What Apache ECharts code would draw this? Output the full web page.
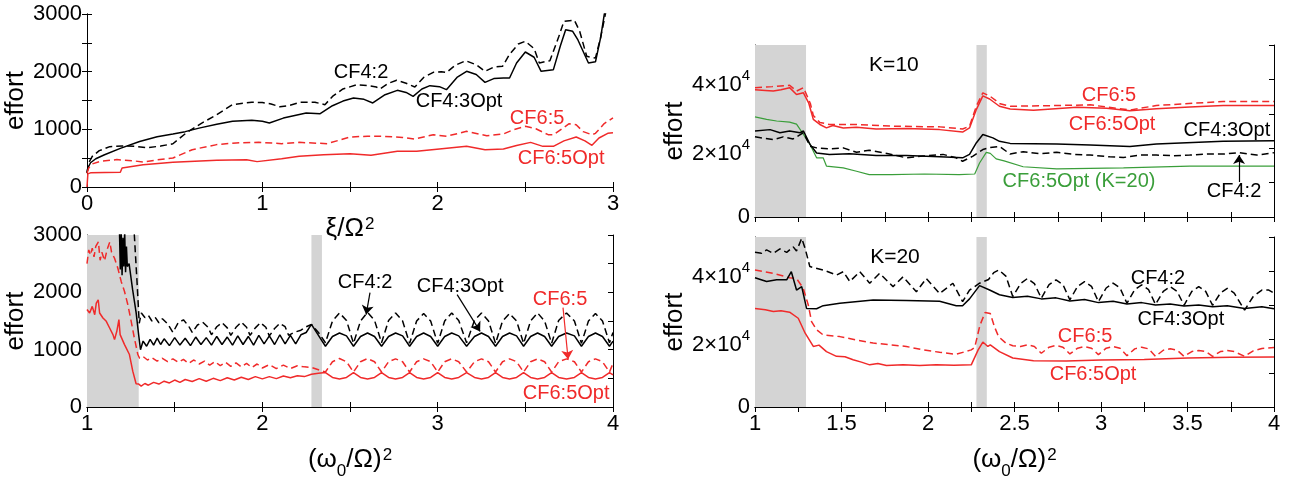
<!DOCTYPE html>
<html>
<head>
<meta charset="utf-8">
<title>effort</title>
<script src="https://cdn.jsdelivr.net/npm/echarts@6/dist/echarts.min.js"></script>
<style>
html, body { margin: 0; padding: 0; background: #fff; }
#chart { width: 1293px; height: 481px; }
</style>
</head>
<body>
<div id="chart"></div>
<script>
// ---- data ----
// top left: effort vs xi/Omega^2
var ltCF42 = [[0,250],[0.01,420],[0.03,530],[0.07,630],[0.13,700],[0.2,712],[0.27,705],[0.34,680],[0.42,710],[0.49,750],[0.565,935],[0.65,1100],[0.74,1255],[0.83,1430],[0.94,1470],[1.0,1465],[1.05,1440],[1.1,1390],[1.15,1410],[1.215,1468],[1.3,1470],[1.357,1428],[1.4,1570],[1.46,1700],[1.54,1774],[1.6,1760],[1.65,1734],[1.67,1700],[1.72,1800],[1.766,1850],[1.82,1800],[1.87,1734],[1.92,1900],[1.975,1988],[2.02,2000],[2.05,1985],[2.1,2110],[2.16,2190],[2.22,2120],[2.27,2006],[2.32,2080],[2.37,2092],[2.41,2300],[2.46,2480],[2.5,2526],[2.55,2400],[2.58,2150],[2.62,2180],[2.64,2190],[2.69,2600],[2.72,2873],[2.78,2890],[2.81,2700],[2.85,2266],[2.9,2237],[2.93,2600],[2.96,3050],[2.98,3300]];
var ltCF43Opt = [[0,240],[0.005,330],[0.02,420],[0.05,490],[0.1,560],[0.19,670],[0.3,790],[0.4,870],[0.49,920],[0.56,960],[0.645,1025],[0.74,1090],[0.83,1140],[0.94,1158],[1.0,1140],[1.04,1110],[1.12,1195],[1.25,1283],[1.33,1272],[1.4,1410],[1.46,1490],[1.52,1543],[1.58,1520],[1.63,1457],[1.7,1600],[1.77,1676],[1.82,1640],[1.86,1572],[1.91,1700],[1.956,1757],[2.01,1740],[2.05,1688],[2.11,1900],[2.165,2006],[2.22,1950],[2.27,1815],[2.32,1880],[2.375,1890],[2.41,1890],[2.45,2150],[2.5,2341],[2.55,2250],[2.59,2006],[2.66,2035],[2.7,2450],[2.73,2728],[2.77,2700],[2.8,2550],[2.86,2150],[2.9,2170],[2.93,2600],[2.95,2988],[2.97,3300]];
var ltCF65 = [[0,240],[0.01,330],[0.03,400],[0.075,445],[0.17,475],[0.26,455],[0.32,435],[0.4,470],[0.49,503],[0.6,647],[0.74,735],[0.85,765],[0.98,775],[1.11,751],[1.21,774],[1.37,751],[1.5,867],[1.6,880],[1.69,878],[1.8,860],[1.87,832],[1.975,907],[2.05,880],[2.165,965],[2.28,890],[2.375,919],[2.43,990],[2.5,1052],[2.56,1010],[2.63,907],[2.66,905],[2.75,1098],[2.79,1080],[2.83,960],[2.88,907],[2.9,930],[2.95,1100],[3,1200]];
var ltCF65Opt = [[0,0],[0.005,230],[0.02,245],[0.1,250],[0.19,255],[0.2,330],[0.32,387],[0.49,428],[0.74,462],[0.91,474],[0.97,440],[1.11,490],[1.21,532],[1.35,560],[1.5,578],[1.62,549],[1.77,618],[1.88,620],[2.01,659],[2.165,705],[2.27,647],[2.375,659],[2.45,720],[2.53,774],[2.6,705],[2.66,705],[2.72,800],[2.79,867],[2.84,800],[2.88,723],[2.92,850],[2.97,930],[3,940]];

// bottom left: effort vs (w0/Omega)^2
var lbCF42 = [[1.255,3200],[1.27,3000],[1.285,2200],[1.298,1460],[1.31,1640],[1.33,1560],[1.35,1600],[1.37,1500],[1.39,1560],[1.41,1470],[1.43,1540],[1.46,1450],[1.49,1300],[1.52,1470],[1.55,1520],[1.58,1410],[1.6,1300],[1.63,1430],[1.66,1480],[1.69,1390],[1.71,1260],[1.74,1400],[1.77,1470],[1.8,1380],[1.82,1250],[1.85,1390],[1.88,1480],[1.91,1390],[1.93,1250],[1.96,1380],[1.99,1470],[2.02,1390],[2.04,1240],[2.07,1370],[2.1,1460],[2.13,1400],[2.15,1250],[2.18,1300],[2.22,1340],[2.25,1400],[2.28,1440],[2.32,1300],[2.36,1120],[2.40,1500],[2.44,1640],[2.48,1510],[2.52,1110],[2.56,1500],[2.60,1650],[2.64,1510],[2.68,1120],[2.72,1510],[2.76,1640],[2.80,1500],[2.84,1110],[2.88,1500],[2.92,1630],[2.96,1500],[3.00,1110],[3.04,1500],[3.08,1640],[3.12,1510],[3.165,1120],[3.21,1510],[3.25,1640],[3.29,1500],[3.33,1110],[3.37,1500],[3.41,1630],[3.45,1500],[3.49,1110],[3.53,1500],[3.57,1640],[3.61,1500],[3.65,1110],[3.69,1510],[3.735,1640],[3.78,1500],[3.82,1110],[3.86,1500],[3.90,1630],[3.94,1500],[3.98,1120],[4.0,1300]];
var lbCF43Opt = [[1.185,3100],[1.19,2400],[1.195,3050],[1.2,2300],[1.205,2950],[1.21,2450],[1.215,3050],[1.22,2350],[1.225,2800],[1.23,2450],[1.24,2500],[1.26,2050],[1.28,1650],[1.295,1250],[1.305,1000],[1.32,1150],[1.34,1060],[1.36,1180],[1.38,1080],[1.40,1200],[1.42,1090],[1.44,1190],[1.47,1070],[1.50,1210],[1.53,1080],[1.56,1200],[1.59,1070],[1.62,1220],[1.65,1090],[1.68,1210],[1.71,1080],[1.74,1230],[1.77,1090],[1.80,1220],[1.83,1080],[1.86,1240],[1.89,1090],[1.92,1230],[1.95,1080],[1.98,1250],[2.01,1100],[2.04,1240],[2.07,1090],[2.10,1260],[2.13,1100],[2.16,1250],[2.19,1100],[2.22,1260],[2.25,1300],[2.28,1440],[2.32,1250],[2.36,1060],[2.40,1230],[2.44,1290],[2.48,1240],[2.52,1060],[2.56,1230],[2.60,1290],[2.64,1230],[2.68,1060],[2.72,1230],[2.76,1290],[2.80,1240],[2.84,1060],[2.88,1230],[2.92,1290],[2.96,1230],[3.00,1060],[3.04,1230],[3.08,1290],[3.12,1240],[3.165,1060],[3.21,1230],[3.25,1290],[3.29,1230],[3.33,1060],[3.37,1230],[3.41,1290],[3.45,1240],[3.49,1060],[3.53,1230],[3.57,1290],[3.61,1230],[3.65,1060],[3.69,1230],[3.735,1290],[3.78,1240],[3.82,1060],[3.86,1230],[3.90,1290],[3.94,1230],[3.98,1060],[4.0,1150]];
var lbCF65 = [[1.0,2500],[1.01,2740],[1.02,2650],[1.03,2770],[1.04,2620],[1.05,2800],[1.065,2880],[1.075,2560],[1.085,2700],[1.1,2550],[1.115,2750],[1.13,2880],[1.14,2700],[1.157,2594],[1.176,2420],[1.195,2190],[1.214,2015],[1.233,1783],[1.252,1494],[1.27,1204],[1.29,915],[1.3,850],[1.32,880],[1.345,820],[1.37,860],[1.4,800],[1.43,850],[1.46,790],[1.49,840],[1.52,780],[1.55,830],[1.58,760],[1.61,820],[1.64,750],[1.67,800],[1.7,730],[1.73,790],[1.76,720],[1.79,780],[1.82,710],[1.85,770],[1.88,700],[1.91,760],[1.94,690],[1.97,750],[2.0,680],[2.04,740],[2.08,670],[2.12,730],[2.16,670],[2.2,720],[2.24,700],[2.28,690],[2.32,650],[2.36,610],[2.40,790],[2.44,845],[2.48,790],[2.52,610],[2.56,790],[2.60,845],[2.64,790],[2.68,610],[2.72,790],[2.76,840],[2.80,790],[2.84,610],[2.88,790],[2.92,840],[2.96,790],[3.00,610],[3.04,790],[3.08,840],[3.12,790],[3.165,610],[3.21,790],[3.25,840],[3.29,790],[3.33,610],[3.37,790],[3.41,840],[3.45,790],[3.49,610],[3.53,790],[3.57,840],[3.61,790],[3.65,610],[3.69,790],[3.735,840],[3.78,790],[3.82,610],[3.86,790],[3.90,840],[3.94,790],[3.98,610],[4.0,760]];
var lbCF65Opt = [[1.0,1700],[1.006,1696],[1.015,1640],[1.03,1755],[1.044,1610],[1.053,1812],[1.064,1870],[1.072,1640],[1.091,1552],[1.11,1494],[1.129,1378],[1.148,1262],[1.157,1175],[1.17,1320],[1.182,1523],[1.189,1262],[1.214,1088],[1.242,915],[1.261,625],[1.28,405],[1.295,400],[1.309,365],[1.33,410],[1.35,380],[1.38,430],[1.41,400],[1.44,450],[1.47,420],[1.5,470],[1.53,430],[1.56,480],[1.6,445],[1.64,495],[1.68,450],[1.72,500],[1.76,460],[1.8,510],[1.84,470],[1.88,520],[1.92,480],[1.96,530],[2.0,490],[2.04,530],[2.08,495],[2.12,540],[2.16,510],[2.2,545],[2.24,530],[2.28,570],[2.32,590],[2.36,600],[2.40,515],[2.44,490],[2.48,515],[2.52,600],[2.56,515],[2.60,490],[2.64,515],[2.68,600],[2.72,515],[2.76,490],[2.80,515],[2.84,600],[2.88,515],[2.92,490],[2.96,515],[3.00,600],[3.04,515],[3.08,490],[3.12,515],[3.165,600],[3.21,515],[3.25,490],[3.29,515],[3.33,600],[3.37,515],[3.41,490],[3.45,515],[3.49,600],[3.53,515],[3.57,490],[3.61,515],[3.65,600],[3.69,515],[3.735,490],[3.78,515],[3.82,600],[3.86,515],[3.90,490],[3.94,515],[3.98,600],[4.0,560]];

// top right: K=10
var k10CF65 = [[1.0,37600],[1.01,37800],[1.1,37900],[1.2,38300],[1.24,36600],[1.28,37600],[1.32,33000],[1.337,29500],[1.375,27500],[1.43,26900],[1.587,26900],[1.79,26400],[2.067,26200],[2.2,25600],[2.24,26400],[2.28,32300],[2.317,36100],[2.356,35200],[2.417,32900],[2.475,32200],[2.744,32400],[2.937,32600],[3.167,31100],[3.32,32400],[3.706,33600],[4,33600]];
var k10CF65Opt = [[1.0,37000],[1.01,37100],[1.06,36800],[1.106,36600],[1.15,37000],[1.2,37600],[1.24,35600],[1.28,36100],[1.31,33200],[1.337,28400],[1.375,26900],[1.413,25900],[1.45,26600],[1.51,25900],[1.587,26100],[1.7,25600],[1.875,25700],[2.067,25400],[2.2,24700],[2.24,25900],[2.28,31300],[2.317,35200],[2.356,34300],[2.413,32200],[2.475,31400],[2.61,31000],[2.86,31900],[3.033,31600],[3.167,30900],[3.32,31500],[3.513,32000],[3.706,32400],[4,32400]];
var k10CF43Opt = [[1.0,25000],[1.01,25000],[1.087,25400],[1.144,24500],[1.2,25000],[1.26,24500],[1.28,25000],[1.318,21100],[1.356,18600],[1.43,18200],[1.546,18400],[1.7,17900],[1.875,17900],[2.067,17500],[2.2,17200],[2.24,18200],[2.28,21600],[2.317,24000],[2.375,23000],[2.413,22000],[2.475,21400],[2.744,21200],[2.937,20900],[3.167,20500],[3.32,21200],[3.706,22000],[4,22200]];
var k10CF42 = [[1.0,23300],[1.106,22500],[1.163,23300],[1.22,22700],[1.28,24500],[1.318,20600],[1.356,20100],[1.43,19800],[1.51,20100],[1.587,18800],[1.66,19400],[1.77,18400],[1.875,17200],[1.97,17700],[2.087,18200],[2.163,17200],[2.2,16200],[2.26,17700],[2.317,19600],[2.36,20200],[2.413,20500],[2.475,18300],[2.55,19000],[2.65,18400],[2.744,18800],[2.85,18200],[2.937,18000],[3.05,17500],[3.13,17300],[3.23,18000],[3.32,18000],[3.42,17800],[3.513,18000],[3.62,18300],[3.706,18300],[3.8,18700],[3.9,18000],[4,18700]];
var k10CF65OptK20 = [[1.0,29100],[1.01,29100],[1.067,28400],[1.125,27900],[1.2,27600],[1.24,27000],[1.28,24000],[1.318,21100],[1.356,17200],[1.394,17200],[1.413,14800],[1.51,14300],[1.587,13300],[1.66,12300],[1.79,12300],[1.98,12500],[2.18,12300],[2.27,12500],[2.298,15700],[2.337,18800],[2.36,18500],[2.394,16900],[2.44,16300],[2.55,14600],[2.744,14000],[3.13,14300],[3.513,14800],[4,14800]];

// bottom right: K=20
var k20CF42 = [[1.0,45500],[1.01,45900],[1.038,45200],[1.067,46200],[1.106,45200],[1.144,46500],[1.183,45500],[1.221,47100],[1.24,45900],[1.27,49600],[1.29,46600],[1.317,41300],[1.394,40300],[1.471,38800],[1.51,39800],[1.548,36900],[1.606,39800],[1.663,36400],[1.72,39300],[1.798,35400],[1.856,38300],[1.933,33900],[1.99,37800],[2.067,33400],[2.144,36400],[2.2,31000],[2.24,34400],[2.298,36400],[2.35,37500],[2.38,39500],[2.41,40300],[2.45,38500],[2.49,32500],[2.535,36300],[2.575,37800],[2.615,36300],[2.655,32000],[2.7,36000],[2.74,37400],[2.78,36000],[2.82,31500],[2.865,35500],[2.905,36900],[2.945,35500],[2.985,31000],[3.03,35000],[3.07,36400],[3.11,35000],[3.15,30500],[3.195,34500],[3.235,35900],[3.275,34500],[3.315,30200],[3.36,34000],[3.40,35400],[3.44,34000],[3.48,29900],[3.525,34000],[3.565,35400],[3.605,34000],[3.645,29900],[3.69,33500],[3.73,34900],[3.77,33500],[3.83,28500],[3.88,32500],[3.93,34400],[3.97,34400],[4.0,33500]];
var k20CF43Opt = [[1.0,38000],[1.01,38000],[1.067,36900],[1.125,37400],[1.183,37400],[1.21,39800],[1.24,34400],[1.27,35400],[1.298,29000],[1.356,28900],[1.394,29800],[1.49,30500],[1.683,31500],[1.875,31300],[2.067,31100],[2.163,29800],[2.2,29800],[2.24,31800],[2.298,35700],[2.356,34400],[2.413,33000],[2.49,32200],[2.575,32600],[2.655,31800],[2.74,32100],[2.82,31200],[2.905,31600],[2.985,30700],[3.07,31100],[3.15,30300],[3.235,30700],[3.315,30000],[3.40,30300],[3.48,29700],[3.565,30000],[3.645,29500],[3.73,29800],[3.83,29000],[3.93,29500],[4.0,28900]];
var k20CF65 = [[1.0,40300],[1.01,40300],[1.106,39300],[1.2,38000],[1.24,37800],[1.279,34900],[1.308,30000],[1.327,25100],[1.356,22700],[1.394,21200],[1.49,20700],[1.587,19700],[1.683,18800],[1.779,18300],[1.875,17800],[1.971,16800],[2.067,16100],[2.163,15500],[2.25,16800],[2.27,17500],[2.3,24000],[2.33,27800],[2.36,27500],[2.385,23500],[2.408,20700],[2.45,18800],[2.49,18000],[2.535,17800],[2.575,18300],[2.615,17800],[2.655,15800],[2.7,17600],[2.74,18100],[2.78,17600],[2.82,15600],[2.865,17300],[2.905,17800],[2.945,17300],[2.985,15400],[3.03,17300],[3.07,17800],[3.11,17300],[3.15,15100],[3.195,17100],[3.235,17600],[3.275,17100],[3.315,14900],[3.36,16700],[3.40,17100],[3.44,16700],[3.48,14900],[3.525,16300],[3.565,16600],[3.605,16300],[3.645,14900],[3.69,16300],[3.73,16600],[3.77,16300],[3.83,14900],[3.88,16500],[3.93,17200],[4.0,17500]];
var k20CF65Opt = [[1.0,29000],[1.01,29000],[1.06,28600],[1.106,28100],[1.15,28300],[1.2,27900],[1.25,26100],[1.29,21700],[1.337,17800],[1.37,18200],[1.413,16300],[1.471,14900],[1.52,14800],[1.567,13900],[1.615,13200],[1.663,12400],[1.71,12800],[1.76,12200],[1.856,12400],[1.952,12200],[2.048,12400],[2.15,12300],[2.25,12400],[2.29,16800],[2.317,19100],[2.346,17800],[2.36,18300],[2.413,16300],[2.49,14400],[2.61,13600],[2.8,13500],[3.0,13800],[3.25,14000],[3.5,14400],[3.75,14600],[4,14700]];

// shaded x ranges
var shaded = [[1, 1.295], [2.28, 2.34]];

// tick labels
var leftYTicks = [0, 1000, 2000, 3000];
var rightYTicks = [0, 20000, 40000];

var FONT = '"Liberation Sans", Arial, Helvetica, sans-serif';
var RED = '#f02a2a', GREEN = '#3a9e3a', BLACK = '#000';

var chart = echarts.init(document.getElementById('chart'));

var grids = [
    {left: 87, top: 14, width: 526, height: 173},
    {left: 87, top: 235, width: 526, height: 173},
    {left: 755, top: 45, width: 519, height: 172},
    {left: 755, top: 237, width: 519, height: 172}
];

function isMultiple(v, step) {
    return Math.abs(v / step - Math.round(v / step)) < 1e-6;
}

// axis titles with sub/superscripts
var omegaName = '{m|(ω}{sub|0}{m|/Ω)}{sup|2}';
var xiName = '{m|ξ/Ω}{sup|2}';
var nameRich = {
    m: {fontSize: 26, lineHeight: 30, fontFamily: FONT, color: BLACK, verticalAlign: 'top'},
    sub: {fontSize: 17, lineHeight: 17, fontFamily: FONT, color: BLACK, verticalAlign: 'top', padding: [16, 0, 0, 0]},
    sup: {fontSize: 17, lineHeight: 17, fontFamily: FONT, color: BLACK, verticalAlign: 'top', padding: [0, 0, 0, 1]}
};

function xAxes(g, min, max, step, labelStep, name, gap) {
    var common = {
        gridIndex: g, type: 'value', min: min, max: max, interval: step,
        axisLine: {show: true, lineStyle: {color: BLACK, width: 1}},
        axisTick: {show: true, inside: true, length: 5, lineStyle: {color: BLACK}},
        splitLine: {show: false}
    };
    var bottom = Object.assign({}, common, {
        position: 'bottom',
        axisLabel: {
            show: labelStep > 0, color: BLACK, fontSize: 22, fontFamily: FONT, margin: 6,
            showMinLabel: true, showMaxLabel: true,
            formatter: function (v) { return isMultiple(v, labelStep) ? String(Math.round(v * 2) / 2) : ''; }
        },
        name: name, nameLocation: 'middle', nameGap: gap,
        nameTextStyle: {color: BLACK, fontSize: 26, fontFamily: FONT, rich: nameRich}
    });
    var top = Object.assign({}, common, {position: 'top', axisLabel: {show: false}});
    return [bottom, top];
}

function yAxes(g, max, step, labelFn, gap) {
    var common = {
        gridIndex: g, type: 'value', min: 0, max: max, interval: step,
        axisLine: {show: true, lineStyle: {color: BLACK, width: 1}},
        axisTick: {show: true, inside: true, length: 5, lineStyle: {color: BLACK}},
        splitLine: {show: false}
    };
    var left = Object.assign({}, common, {
        position: 'left',
        axisLabel: {
            color: BLACK, fontSize: 22, fontFamily: FONT, margin: 5,
            showMinLabel: true, showMaxLabel: true, formatter: labelFn,
            rich: {
                m: {fontSize: 22, lineHeight: 22, fontFamily: FONT, color: BLACK, verticalAlign: 'top', padding: [6, 0, 0, 0]},
                s: {fontSize: 15, lineHeight: 15, fontFamily: FONT, color: BLACK, verticalAlign: 'top'}
            }
        },
        name: 'effort', nameLocation: 'middle', nameRotate: 90, nameGap: gap,
        nameTextStyle: {color: BLACK, fontSize: 26, fontFamily: FONT}
    });
    var right = Object.assign({}, common, {position: 'right', axisLabel: {show: false}});
    return [left, right];
}

var leftYLabel = function (v) { return leftYTicks.indexOf(v) >= 0 ? String(v) : ''; };
var rightYLabel = function (v) {
    if (rightYTicks.indexOf(v) < 0) return '';
    if (v === 0) return '0';
    return '{m|' + (v / 10000) + '×10}{s|4}';
};

var xAxis = [].concat(
    xAxes(0, 0, 3, 0.5, 1, xiName, 0),
    xAxes(1, 1, 4, 0.5, 1, omegaName, 40),
    xAxes(2, 1, 4, 0.25, 0, '', 0),
    xAxes(3, 1, 4, 0.25, 0.5, omegaName, 40)
);
var yAxis = [].concat(
    yAxes(0, 3000, 500, leftYLabel, 57),
    yAxes(1, 3000, 500, leftYLabel, 57),
    yAxes(2, 50000, 10000, rightYLabel, 33),
    yAxes(3, 50000, 10000, rightYLabel, 33)
);

function line(g, data, color, dashed, width) {
    return {
        type: 'line', xAxisIndex: 2 * g, yAxisIndex: 2 * g, data: data,
        symbol: 'none', showSymbol: false, z: 3, clip: true,
        lineStyle: {color: color, width: width || 1.5, type: dashed ? [7, 4] : 'solid'}
    };
}

function bands(g) {
    return {
        type: 'line', xAxisIndex: 2 * g, yAxisIndex: 2 * g, data: [], z: 1,
        markArea: {
            silent: true, itemStyle: {color: '#d4d4d4'},
            data: shaded.map(function (b) { return [{xAxis: b[0]}, {xAxis: b[1]}]; })
        }
    };
}

function notes(g, list, arrows) {
    return {
        type: 'line', xAxisIndex: 2 * g, yAxisIndex: 2 * g, data: [], z: 5,
        markPoint: {
            silent: true, symbol: 'circle', symbolSize: 1,
            itemStyle: {color: 'rgba(0,0,0,0)'},
            data: list.map(function (n) {
                return {
                    coord: [n[1], n[2]],
                    label: {show: true, position: 'inside', formatter: n[0], color: n[3], fontSize: n[4] || 20, fontFamily: FONT}
                };
            })
        },
        markLine: {
            silent: true, symbol: ['none', 'arrow'], symbolSize: 9,
            label: {show: false},
            data: (arrows || []).map(function (a) {
                return [
                    {coord: [a[0], a[1]], lineStyle: {color: a[4], width: 1.2, type: 'solid'}, itemStyle: {color: a[4]}},
                    {coord: [a[2], a[3]]}
                ];
            })
        }
    };
}

var series = [
    bands(1), bands(2), bands(3),
    line(0, ltCF42, BLACK, true), line(0, ltCF43Opt, BLACK, false),
    line(0, ltCF65, RED, true), line(0, ltCF65Opt, RED, false),
    line(1, lbCF65Opt, RED, false), line(1, lbCF65, RED, true),
    line(1, lbCF42, BLACK, true), line(1, lbCF43Opt, BLACK, false),
    line(2, k10CF65OptK20, GREEN, false, 1.2),
    line(2, k10CF42, BLACK, true), line(2, k10CF43Opt, BLACK, false),
    line(2, k10CF65, RED, true), line(2, k10CF65Opt, RED, false),
    line(3, k20CF65Opt, RED, false), line(3, k20CF65, RED, true),
    line(3, k20CF42, BLACK, true), line(3, k20CF43Opt, BLACK, false),
    notes(0, [
        ['CF4:2', 1.563, 1994, BLACK], ['CF4:3Opt', 2.122, 1491, BLACK],
        ['CF6:5', 2.567, 1196, RED], ['CF6:5Opt', 2.704, 503, RED]
    ]),
    notes(1, [
        ['CF4:2', 2.586, 2168, BLACK], ['CF4:3Opt', 3.128, 2098, BLACK],
        ['CF6:5', 3.698, 1873, RED], ['CF6:5Opt', 3.733, 243, RED]
    ], [
        [2.614, 1994, 2.592, 1613, BLACK],
        [3.111, 1960, 3.242, 1318, BLACK],
        [3.715, 1734, 3.744, 832, RED]
    ]),
    notes(2, [
        ['K=10', 1.803, 44186, BLACK, 21], ['CF6:5', 3.046, 35465, RED],
        ['CF6:5Opt', 3.064, 27035, RED], ['CF4:3Opt', 3.728, 25290, BLACK],
        ['CF6:5Opt (K=20)', 2.873, 10465, GREEN], ['CF4:2', 3.769, 7558, BLACK]
    ], [
        [3.798, 10174, 3.798, 18023, BLACK]
    ]),
    notes(3, [
        ['K=20', 1.809, 44186, BLACK, 21], ['CF4:2', 3.329, 37790, BLACK],
        ['CF4:3Opt', 3.462, 25872, BLACK], ['CF6:5', 2.908, 20640, RED],
        ['CF6:5Opt', 2.954, 9593, RED]
    ])
];

chart.setOption({
    backgroundColor: '#fff',
    animation: false,
    grid: grids,
    xAxis: xAxis,
    yAxis: yAxis,
    series: series
});
</script>
</body>
</html>
